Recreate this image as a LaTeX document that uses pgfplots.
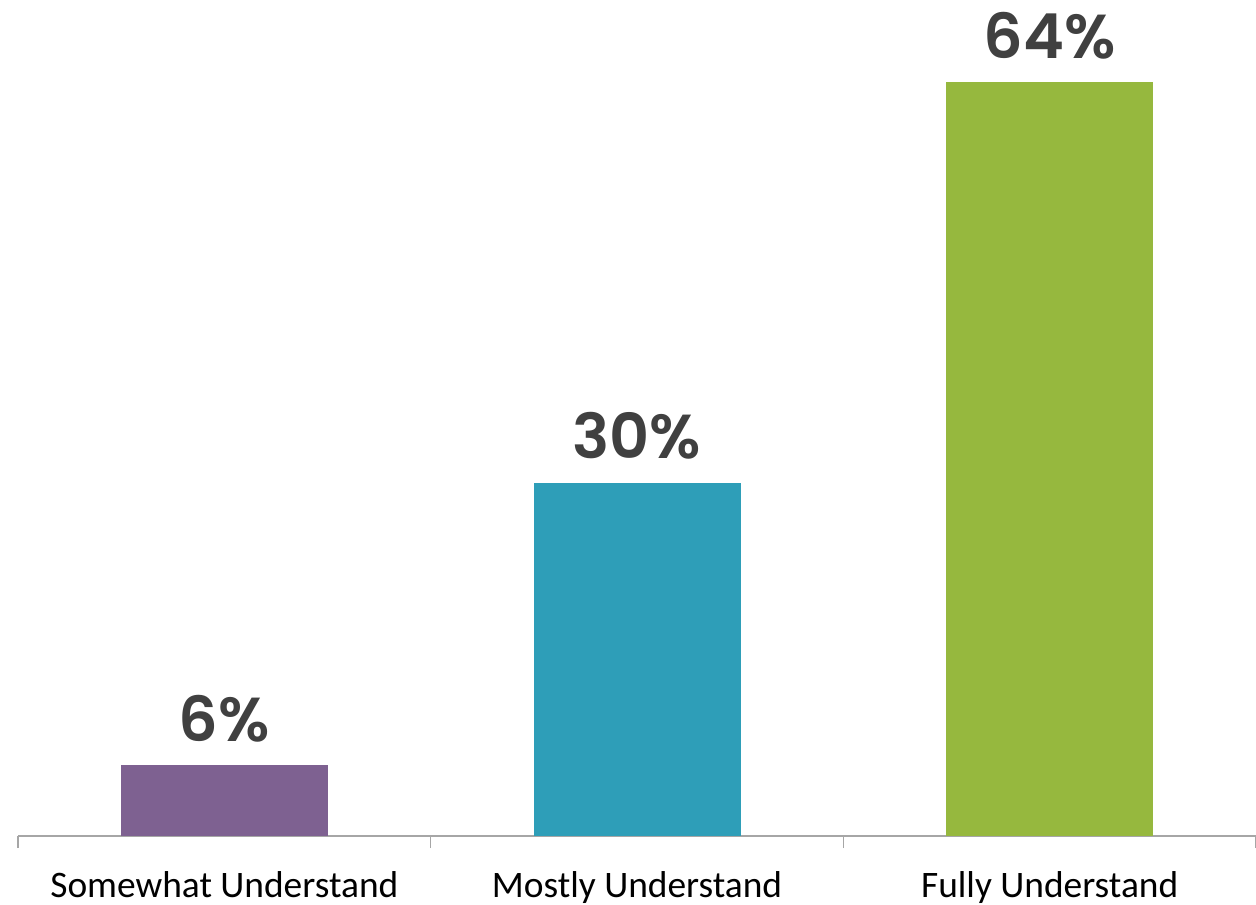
\documentclass[border=0pt]{standalone}
\usepackage{pgfplots}
\pgfplotsset{compat=1.18}
\usepackage{fontspec}
\setmainfont{Carlito}
\newfontfamily\labfont{Poppins SemiBold}
\definecolor{cpurple}{HTML}{7E6191}
\definecolor{cteal}{HTML}{2E9EB8}
\definecolor{cgreen}{HTML}{96B83E}
\definecolor{ctext}{HTML}{404040}
\definecolor{caxis}{HTML}{A6A6A6}
\begin{document}
\begin{tikzpicture}
\useasboundingbox (0,0) rectangle (628pt,452pt);
\begin{axis}[
  at={(9pt,34pt)}, anchor=south west,
  scale only axis,
  width=619pt, height=412.3pt,
  xmin=-0.5, xmax=2.5, ymin=0, ymax=70,
  axis y line=none,
  axis x line*=bottom,
  x axis line style={caxis, line width=0.6pt, -},
  xtick={0,1,2},
  xticklabels={Somewhat Understand, Mostly Understand, Fully Understand},
  major tick length=0pt,
  extra x ticks={-0.5,0.5,1.5,2.5},
  extra x tick labels={},
  extra x tick style={major tick length=6pt, tick style={caxis, line width=0.6pt}, tick align=outside},
  xticklabel style={font=\fontsize{18.7}{20}\selectfont, text=black, yshift=-14pt},
  /pgf/number format/assume math mode=true,
  ybar, bar width=103.5pt, bar shift=0pt,
  nodes near coords={\pgfmathprintnumber{\pgfplotspointmeta}\%},
  every node near coord/.append style={font=\labfont\fontsize{31}{33}\selectfont, text=ctext, anchor=south, yshift=8pt},
  clip=false,
]
\addplot[fill=cpurple, draw=none] coordinates {(0,6)};
\addplot[fill=cteal, draw=none] coordinates {(1,30)};
\addplot[fill=cgreen, draw=none] coordinates {(2,64)};
\end{axis}
\end{tikzpicture}
\end{document}
